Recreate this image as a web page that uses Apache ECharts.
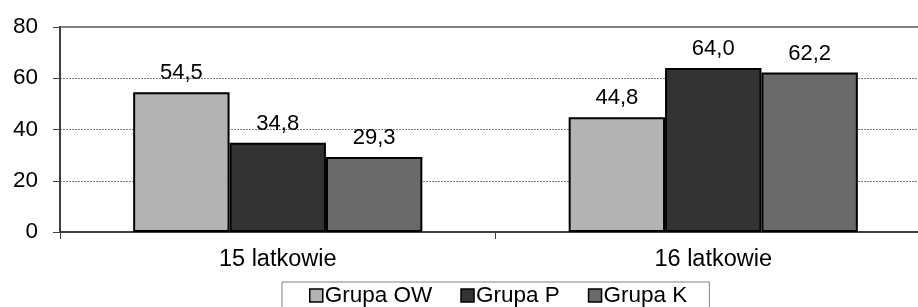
<!DOCTYPE html>
<html>
<head>
<meta charset="utf-8">
<script src="https://cdn.jsdelivr.net/npm/echarts@6/dist/echarts.min.js"></script>
<style>
html,body{margin:0;padding:0;background:#fff;overflow:hidden;}
#chart{width:931px;height:307px;}
</style>
</head>
<body>
<div id="chart"></div>
<script>
//kategorie i dane
var categories = ['15 latkowie', '16 latkowie'];
var groupNames = ['Grupa OW', 'Grupa P', 'Grupa K'];
var grupaOW = [54.5, 44.8];
var grupaP = [34.8, 64.0];
var grupaK = [29.3, 62.2];
var yTicks = [0, 20, 40, 60, 80];

var colors = ['#b3b3b3', '#333333', '#6a6a6a'];
var font = 'Liberation Sans, Arial, sans-serif';

function makeSeries(name, data, color) {
	return {
		name: name,
		type: 'bar',
		data: data,
		barGap: '0%',
		barCategoryGap: '33.6%',
		itemStyle: {color: color, borderColor: '#000', borderWidth: 2},
		label: {
			show: true,
			position: 'top',
			distance: 8,
			color: '#000',
			fontSize: 22,
			fontFamily: font,
			formatter: function (p) { return p.value.toFixed(1).replace('.', ','); }
		}
	};
}

var myChart = echarts.init(document.getElementById('chart'));
var option = {
	animation: false,
	grid: {
		left: 60, right: 0, top: 27, bottom: 75,
		show: true, borderColor: '#808080', borderWidth: 2
	},
	legend: {
		data: groupNames,
		left: 282,
		top: 282,
		orient: 'horizontal',
		padding: [2, 22, 10, 27],
		borderColor: '#808080',
		borderWidth: 1,
		itemWidth: 13,
		itemHeight: 13,
		itemGap: 28,
		icon: 'rect',
		itemStyle: {borderColor: '#000', borderWidth: 1.5},
		textStyle: {fontSize: 22.5, lineHeight: 22, fontFamily: font, color: '#000', padding: [0, 0, 0, -3]}
	},
	xAxis: {
		type: 'category',
		data: categories,
		axisLine: {lineStyle: {color: '#404040', width: 2}},
		axisTick: {show: true, length: 7, lineStyle: {color: '#404040', width: 1}},
		axisLabel: {fontSize: 23.5, fontFamily: font, color: '#000', margin: 16}
	},
	yAxis: {
		type: 'value',
		min: yTicks[0],
		max: yTicks[yTicks.length - 1],
		interval: 20,
		axisLine: {show: true, lineStyle: {color: '#404040', width: 2}},
		axisTick: {show: true, length: 7, lineStyle: {color: '#404040', width: 1}},
		axisLabel: {fontSize: 22.5, fontFamily: font, color: '#000', margin: 22},
		splitLine: {lineStyle: {color: '#808080', type: [2, 1], width: 1}}
	},
	series: [
		makeSeries(groupNames[0], grupaOW, colors[0]),
		makeSeries(groupNames[1], grupaP, colors[1]),
		makeSeries(groupNames[2], grupaK, colors[2])
	]
};
myChart.setOption(option);
</script>
</body>
</html>
